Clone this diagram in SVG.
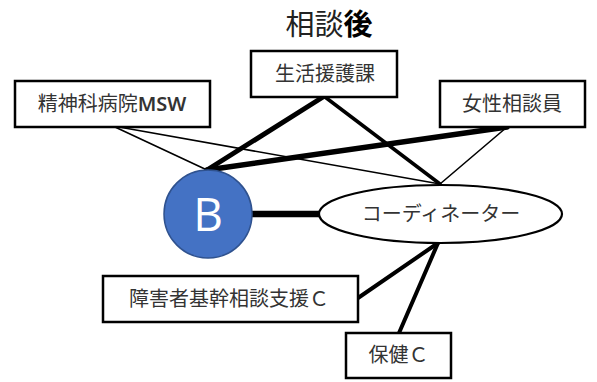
<svg xmlns="http://www.w3.org/2000/svg" width="597" height="382" viewBox="0 0 597 382">
<style>
.box{fill:#fff;stroke:#000;stroke-width:2.5}
.t{font-family:"Noto Sans CJK JP","Noto Sans",sans-serif;font-size:20px;fill:#333;text-anchor:middle}
.ln{stroke:#000;stroke-linecap:round;fill:none}
</style>
<rect width="597" height="382" fill="#fff"/>
<text x="329" y="35" font-family="Noto Sans CJK JP, sans-serif" font-size="29" fill="#222" text-anchor="middle">相談<tspan font-weight="bold" fill="#000">後</tspan></text>
<g id="connectors">
<line class="ln" x1="115" y1="127" x2="207" y2="170" stroke-width="1.6"/>
<line class="ln" x1="119" y1="127" x2="440" y2="184" stroke-width="1.6"/>
<line class="ln" x1="323" y1="97" x2="207" y2="170" stroke-width="5"/>
<line class="ln" x1="325" y1="97" x2="440" y2="184" stroke-width="3.5"/>
<line class="ln" x1="507" y1="127" x2="207" y2="170" stroke-width="5.5"/>
<line class="ln" x1="507" y1="127" x2="440" y2="184" stroke-width="1.6"/>
<line x1="252" y1="214" x2="319" y2="214" stroke="#000" stroke-width="6.5"/>
<line class="ln" x1="438" y1="243" x2="358" y2="298" stroke-width="4"/>
<line class="ln" x1="438" y1="243" x2="399" y2="333" stroke-width="4"/>
</g>
<g id="msw">
<rect class="box" x="15" y="81" width="195" height="46"/>
<text class="t" x="112" y="111">精神科病院<tspan font-family="Noto Sans, sans-serif" font-weight="600">MSW</tspan></text>
</g>
<g id="seikatsu">
<rect class="box" x="251" y="51" width="146" height="46"/>
<text class="t" x="325" y="81">生活援護課</text>
</g>
<g id="josei">
<rect class="box" x="440" y="81" width="145" height="46"/>
<text class="t" x="512" y="111">女性相談員</text>
</g>
<g id="B">
<circle cx="208" cy="214" r="44" fill="#4472C4" stroke="#2F528F" stroke-width="1.5"/>
<text x="208" y="231" font-family="Open Sans, sans-serif" font-size="46" fill="#fff" text-anchor="middle">B</text>
</g>
<g id="coordinator">
<ellipse cx="440.5" cy="214" rx="121.5" ry="29" fill="#fff" stroke="#000" stroke-width="2.2"/>
<text class="t" x="441" y="221">コーディネーター</text>
</g>
<g id="shogai">
<rect class="box" x="103" y="276" width="255" height="46"/>
<text class="t" x="229" y="306">障害者基幹相談支援Ｃ</text>
</g>
<g id="hoken">
<rect class="box" x="346" y="333" width="105" height="45"/>
<text class="t" x="398.5" y="362">保健Ｃ</text>
</g>
</svg>
